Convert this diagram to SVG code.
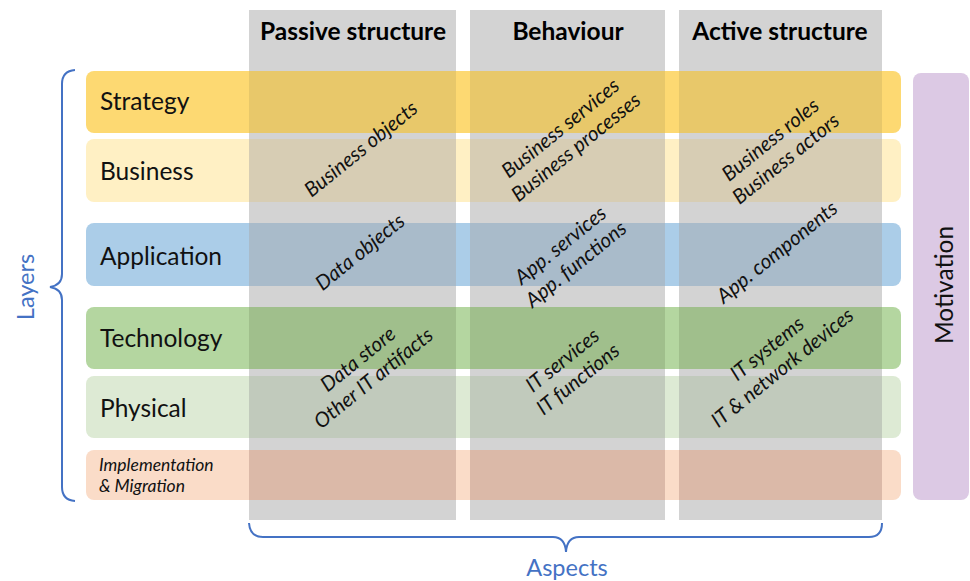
<svg xmlns="http://www.w3.org/2000/svg" width="970" height="581" viewBox="0 0 970 581">
<defs>
<style>
.col{fill:#D3D3D3}
.hdr{font-family:Lato,"Liberation Sans",sans-serif;font-weight:bold;font-size:24.5px;fill:#000;text-anchor:middle}
.lbl{font-family:Lato,"Liberation Sans",sans-serif;font-size:24.5px;fill:#111}
.lbls{font-family:Lato,"Liberation Sans",sans-serif;font-style:italic;font-size:17.5px;fill:#111}
.diag{font-family:Lato,"Liberation Sans",sans-serif;font-style:italic;font-size:20.5px;fill:#111;text-anchor:middle}
.blue{font-family:Lato,"Liberation Sans",sans-serif;font-size:23.5px;fill:#4472C4;text-anchor:middle}
.mot{font-family:Lato,"Liberation Sans",sans-serif;font-size:24.5px;fill:#111;text-anchor:middle}
.brace{fill:none;stroke:#4472C4;stroke-width:2}
</style>
<clipPath id="cols">
<rect x="249" y="10" width="207" height="510"/>
<rect x="470" y="10" width="195" height="510"/>
<rect x="679" y="10" width="203" height="510"/>
</clipPath>
</defs>
<rect width="970" height="581" fill="#fff"/>

<g id="columns">
<g id="col-passive"><rect class="col" x="249" y="10" width="207" height="510"/><text class="hdr" x="353" y="40">Passive structure</text></g>
<g id="col-behaviour"><rect class="col" x="470" y="10" width="195" height="510"/><text class="hdr" x="568" y="40">Behaviour</text></g>
<g id="col-active"><rect class="col" x="679" y="10" width="203" height="510"/><text class="hdr" x="780" y="40">Active structure</text></g>
</g>

<g id="row-strategy">
<rect x="86" y="71" width="815" height="62" rx="8" fill="#FDD972"/>
<rect x="86" y="71" width="815" height="62" rx="8" fill="#E8C86A" clip-path="url(#cols)"/>
<text class="lbl" x="100" y="110">Strategy</text>
</g>
<g id="row-business">
<rect x="86" y="139" width="815" height="63" rx="8" fill="#FFF0C4"/>
<rect x="86" y="139" width="815" height="63" rx="8" fill="#D7CDB4" clip-path="url(#cols)"/>
<text class="lbl" x="100" y="180">Business</text>
</g>
<g id="row-application">
<rect x="86" y="223" width="815" height="63" rx="8" fill="#ABCDE8"/>
<rect x="86" y="223" width="815" height="63" rx="8" fill="#A9BBCA" clip-path="url(#cols)"/>
<text class="lbl" x="100" y="265">Application</text>
</g>
<g id="row-technology">
<rect x="86" y="307" width="815" height="62" rx="8" fill="#B4D6A0"/>
<rect x="86" y="307" width="815" height="62" rx="8" fill="#A0BF8C" clip-path="url(#cols)"/>
<text class="lbl" x="100" y="347">Technology</text>
</g>
<g id="row-physical">
<rect x="86" y="376" width="815" height="62" rx="8" fill="#DDEAD4"/>
<rect x="86" y="376" width="815" height="62" rx="8" fill="#C1CABC" clip-path="url(#cols)"/>
<text class="lbl" x="100" y="417">Physical</text>
</g>
<g id="row-implementation">
<rect x="86" y="450" width="815" height="50" rx="8" fill="#FADCC8"/>
<rect x="86" y="450" width="815" height="50" rx="8" fill="#DBB9A8" clip-path="url(#cols)"/>
<text class="lbls" x="99" y="471">Implementation</text>
<text class="lbls" x="99" y="492">&amp; Migration</text>
</g>

<g id="motivation">
<rect x="913" y="73" width="56" height="427" rx="8" fill="#DCC9E4"/>
<text class="mot" transform="translate(953,285) rotate(-90)">Motivation</text>
</g>

<g id="cell-texts">
<g transform="translate(361,149) rotate(-39)"><text class="diag" y="7">Business objects</text></g>
<g transform="translate(568,137.5) rotate(-39)"><text class="diag" y="-5">Business services</text><text class="diag" y="19.5">Business processes</text></g>
<g transform="translate(778,149) rotate(-39)"><text class="diag" y="-5">Business roles</text><text class="diag" y="19.5">Business actors</text></g>
<g transform="translate(360,252) rotate(-39)"><text class="diag" y="7">Data objects</text></g>
<g transform="translate(568,254.5) rotate(-39)"><text class="diag" y="-5">App. services</text><text class="diag" y="19.5">App. functions</text></g>
<g transform="translate(777,252) rotate(-39)"><text class="diag" y="7">App. components</text></g>
<g transform="translate(365.5,368.5) rotate(-39)"><text class="diag" y="-5">Data store</text><text class="diag" y="19.5">Other IT artifacts</text></g>
<g transform="translate(570,369.5) rotate(-39)"><text class="diag" y="-5">IT services</text><text class="diag" y="19.5">IT functions</text></g>
<g transform="translate(774.5,358) rotate(-39)"><text class="diag" y="-5">IT systems</text><text class="diag" y="19.5">IT &amp; network devices</text></g>
</g>

<g id="connectors">
<path class="brace" d="M75,70 Q62,71 62,84 L62,274 Q62,285 50,287 Q62,289 62,300 L62,487 Q62,500 75,501"/>
<path class="brace" d="M249,523 Q250,537 263,537 L553,537 Q565,537 566,552 Q567,537 579,537 L869,537 Q882,537 882,523"/>
</g>
<text class="blue" transform="translate(34,287) rotate(-90)">Layers</text>
<text class="blue" x="567" y="576">Aspects</text>
</svg>
